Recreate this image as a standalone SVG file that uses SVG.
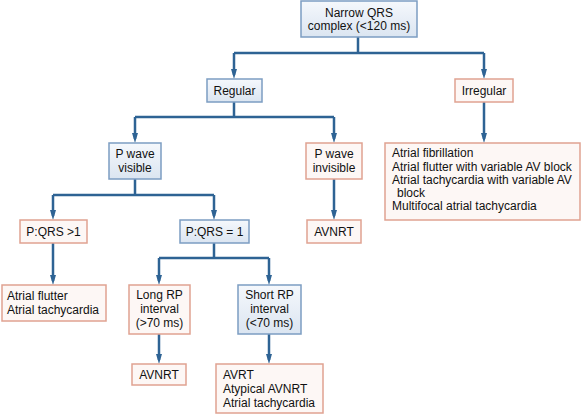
<svg xmlns="http://www.w3.org/2000/svg" width="582" height="414" viewBox="0 0 582 414">
<defs>
<linearGradient id="bg" x1="0" y1="0" x2="0" y2="1">
<stop offset="0" stop-color="#f5f8fc"/>
<stop offset="1" stop-color="#dbe5f1"/>
</linearGradient>
<marker id="ah" markerUnits="userSpaceOnUse" markerWidth="10" markerHeight="6" refX="6" refY="3" orient="auto" viewBox="0 0 10 6">
<path d="M0,0 L10,3 L0,6 z" fill="#2e6394"/>
</marker>
<style>
.b{fill:url(#bg);stroke:#7c9dc2;stroke-width:1.5}
.p{fill:#fdf7f5;stroke:#e0a291;stroke-width:1.5}
text{font-family:"Liberation Sans",Arial,sans-serif;font-size:12px;fill:#111}
.c{text-anchor:middle}
.ln{fill:none;stroke:#2e6394;stroke-width:2.5}
</style>
</defs>
<rect width="582" height="414" fill="#fff"/>
<g id="connectors">
<path class="ln" d="M358,37 V53 M234,53 H484 M234,102 V117 M135,117 H334 M135,179 V195 M53,195 H214 M214,243 V258 M159,258 H269"/>
<path class="ln" d="M234,53 V75" marker-end="url(#ah)"/>
<path class="ln" d="M484,53 V75" marker-end="url(#ah)"/>
<path class="ln" d="M135,117 V139" marker-end="url(#ah)"/>
<path class="ln" d="M334,117 V139" marker-end="url(#ah)"/>
<path class="ln" d="M484,102 V139" marker-end="url(#ah)"/>
<path class="ln" d="M53,195 V216" marker-end="url(#ah)"/>
<path class="ln" d="M214,195 V216" marker-end="url(#ah)"/>
<path class="ln" d="M334,179 V216" marker-end="url(#ah)"/>
<path class="ln" d="M53,243 V281" marker-end="url(#ah)"/>
<path class="ln" d="M159,258 V281" marker-end="url(#ah)"/>
<path class="ln" d="M269,258 V281" marker-end="url(#ah)"/>
<path class="ln" d="M159,334 V360" marker-end="url(#ah)"/>
<path class="ln" d="M269,334 V360" marker-end="url(#ah)"/>
</g>
<g id="n-narrow"><rect class="b" x="301" y="1" width="116" height="36"/><text class="c" x="359" y="16.5">Narrow QRS</text><text class="c" x="359" y="30">complex (&lt;120 ms)</text></g>
<g id="n-regular"><rect class="b" x="207" y="79" width="55" height="23"/><text class="c" x="234.5" y="95">Regular</text></g>
<g id="n-irregular"><rect class="p" x="455" y="79" width="58" height="23"/><text class="c" x="484" y="95">Irregular</text></g>
<g id="n-pvisible"><rect class="b" x="109" y="143" width="52" height="36"/><text class="c" x="135" y="158">P wave</text><text class="c" x="135" y="172">visible</text></g>
<g id="n-pinvisible"><rect class="p" x="306" y="143" width="56" height="36"/><text class="c" x="334" y="158">P wave</text><text class="c" x="334" y="172">invisible</text></g>
<g id="n-irrlist"><rect class="p" x="385" y="143" width="195" height="77"/>
<text x="392" y="157">Atrial fibrillation</text>
<text x="392" y="170.5">Atrial flutter with variable AV block</text>
<text x="392" y="183.5">Atrial tachycardia with variable AV</text>
<text x="397" y="196.5">block</text>
<text x="392" y="209.5">Multifocal atrial tachycardia</text></g>
<g id="n-pqrs-gt1"><rect class="p" x="20" y="220" width="67" height="23"/><text class="c" x="53.5" y="236">P:QRS &gt;1</text></g>
<g id="n-pqrs-eq1"><rect class="b" x="180" y="220" width="69" height="23"/><text class="c" x="214.5" y="236">P:QRS = 1</text></g>
<g id="n-avnrt1"><rect class="p" x="307" y="220" width="54" height="23"/><text class="c" x="334" y="236">AVNRT</text></g>
<g id="n-flutter"><rect class="p" x="2" y="285" width="104" height="36"/><text x="7" y="300">Atrial flutter</text><text x="7" y="314">Atrial tachycardia</text></g>
<g id="n-longrp"><rect class="p" x="129" y="285" width="61" height="49"/><text class="c" x="159.5" y="299">Long RP</text><text class="c" x="159.5" y="313">interval</text><text class="c" x="159.5" y="327">(&gt;70 ms)</text></g>
<g id="n-shortrp"><rect class="b" x="238" y="285" width="63" height="49"/><text class="c" x="269.5" y="299">Short RP</text><text class="c" x="269.5" y="313">interval</text><text class="c" x="269.5" y="327">(&lt;70 ms)</text></g>
<g id="n-avnrt2"><rect class="p" x="132" y="364" width="54" height="21"/><text class="c" x="159" y="379">AVNRT</text></g>
<g id="n-avrt"><rect class="p" x="216" y="364" width="107" height="49"/><text x="223" y="379">AVRT</text><text x="223" y="393">Atypical AVNRT</text><text x="223" y="406.5">Atrial tachycardia</text></g>
</svg>
